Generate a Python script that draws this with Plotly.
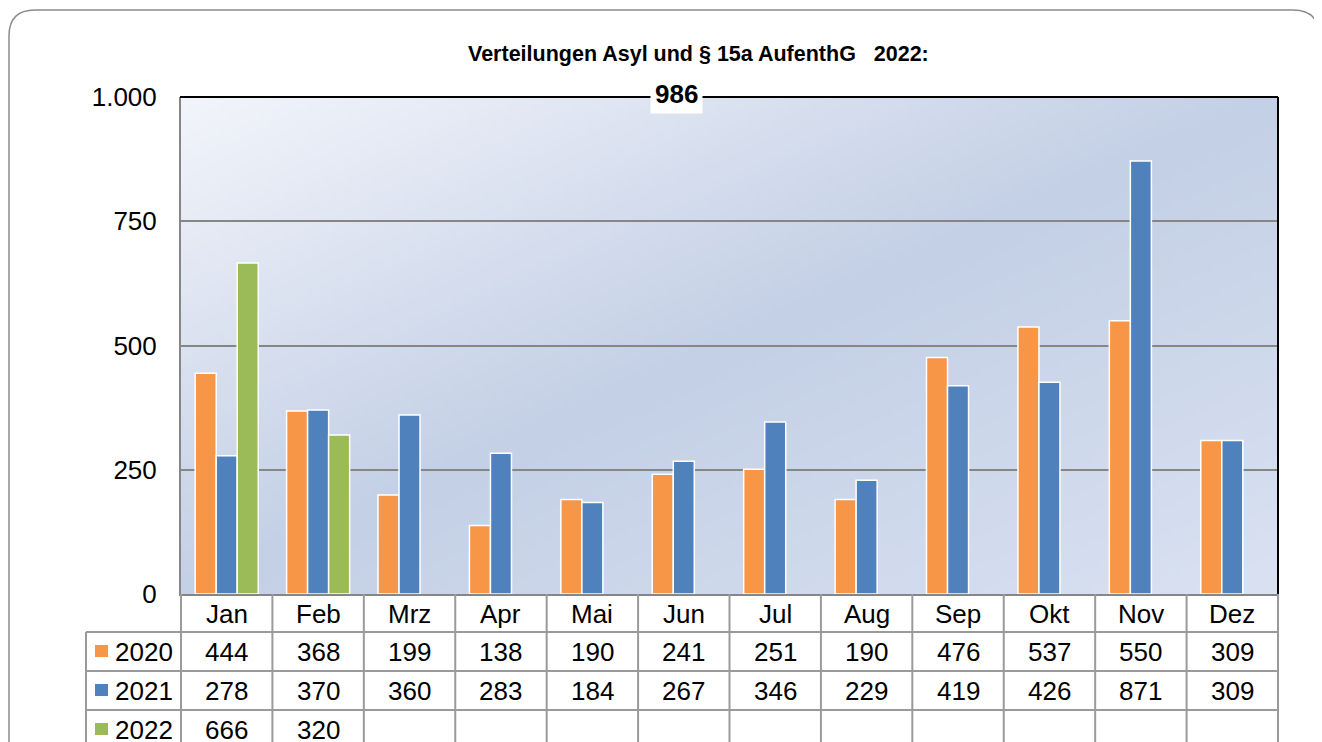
import base64
import struct
import zlib

import numpy as np
import plotly.graph_objects as go

# data
months = ['Jan', 'Feb', 'Mrz', 'Apr', 'Mai', 'Jun', 'Jul', 'Aug', 'Sep', 'Okt', 'Nov', 'Dez']
years = ['2020', '2021', '2022']
v2020 = [444, 368, 199, 138, 190, 241, 251, 190, 476, 537, 550, 309]
v2021 = [278, 370, 360, 283, 184, 267, 346, 229, 419, 426, 871, 309]
v2022 = [666, 320, None, None, None, None, None, None, None, None, None, None]
y_ticks = [0, 250, 500, 750, 1000]
title = 'Verteilungen Asyl und § 15a AufenthG\u00a0\u00a0\u00a02022:'

colors = ['#F79646', '#4F81BD', '#9BBB59']
series = [v2020, v2021, v2022]
FONT = 'Liberation Sans, Arial, sans-serif'

# page size, body margin of the html page, plot area in page pixels
W, H, OFF = 1322, 742, 8
L, R, T, B = 181, 1278, 97, 594


def X(px):
    return (px - L) / (R - L)


def Y(py):
    return (B - py) / (B - T)


def gradient_png(w=220, h=110):
    # diagonal gradient: light top-left, darker middle band, lighter bottom-right
    u = np.linspace(0, 1, w)[None, :]
    v = np.linspace(0, 1, h)[:, None]
    t = (u + v) / 2
    c0 = np.array([243, 245, 251])
    c1 = np.array([196, 208, 230])
    c2 = np.array([218, 226, 242])
    a = np.clip(t / 0.5, 0, 1)[..., None]
    b = np.clip((t - 0.5) / 0.5, 0, 1)[..., None]
    img = np.where(t[..., None] <= 0.5, c0 + (c1 - c0) * a, c1 + (c2 - c1) * b)
    img = img.astype(np.uint8)
    raw = b''.join(b'\x00' + img[i].tobytes() for i in range(h))

    def chunk(tag, data):
        c = struct.pack('>I', len(data)) + tag + data
        return c + struct.pack('>I', zlib.crc32(tag + data) & 0xffffffff)

    png = b'\x89PNG\r\n\x1a\n'
    png += chunk(b'IHDR', struct.pack('>IIBBBBB', w, h, 8, 2, 0, 0, 0))
    png += chunk(b'IDAT', zlib.compress(raw, 9))
    png += chunk(b'IEND', b'')
    return 'data:image/png;base64,' + base64.b64encode(png).decode()


fig = go.Figure()
for name, vals, col in zip(years, series, colors):
    fig.add_trace(go.Bar(x=months, y=vals, name=name, marker_color=col,
                         marker_line=dict(color='white', width=1.5)))

shapes = []
annotations = []

# outer rounded frame
x0, y0, x1, y1, r = X(9), Y(10), X(1319), Y(780), 26
rx, ry = r / (R - L), r / (B - T)
path = (f'M {x0 + rx},{y0} L {x1 - rx},{y0} Q {x1},{y0} {x1},{y0 - ry} '
        f'L {x1},{y1 + ry} Q {x1},{y1} {x1 - rx},{y1} L {x0 + rx},{y1} '
        f'Q {x0},{y1} {x0},{y1 + ry} L {x0},{y0 - ry} Q {x0},{y0} {x0 + rx},{y0} Z')
shapes.append(dict(type='path', xref='paper', yref='paper', path=path,
                   line=dict(color='#8C8C8C', width=1.5), layer='below'))

# top and right black frame of the plot area
shapes.append(dict(type='line', xref='paper', yref='paper', x0=X(L - 1), x1=1, y0=1, y1=1,
                   line=dict(color='black', width=2), layer='above'))
shapes.append(dict(type='line', xref='paper', yref='paper', x0=1, x1=1, y0=0, y1=1,
                   line=dict(color='black', width=2), layer='above'))

# data table grid
grid = dict(color='#9A9A9A', width=2)
row_lines = [632, 671, 710]
for py in row_lines:
    shapes.append(dict(type='line', xref='paper', yref='paper', x0=X(86), x1=1,
                       y0=Y(py), y1=Y(py), line=grid))
col_w = (R - L) / len(months)
for i in range(len(months) + 1):
    px = L + i * col_w
    shapes.append(dict(type='line', xref='paper', yref='paper', x0=X(px), x1=X(px),
                       y0=Y(B), y1=Y(760), line=grid))
shapes.append(dict(type='line', xref='paper', yref='paper', x0=X(86), x1=X(86),
                   y0=Y(632), y1=Y(760), line=grid))

# table text
cell_font = dict(family=FONT, size=26, color='black')
for i, m in enumerate(months):
    annotations.append(dict(x=m, xref='x', y=Y(614), yref='paper', text=m,
                            xanchor='center', yanchor='middle',
                            showarrow=False, font=cell_font))
row_centers = [652, 691, 730]
for yr, vals, col, cy in zip(years, series, colors, row_centers):
    shapes.append(dict(type='rect', xref='paper', yref='paper', x0=X(95), x1=X(108),
                       y0=Y(cy - 7), y1=Y(cy + 5), fillcolor=col, line=dict(width=0)))
    annotations.append(dict(x=X(113), y=Y(cy), xref='paper', yref='paper', text=yr,
                            xanchor='left', yanchor='middle', showarrow=False, font=cell_font))
    for m, v in zip(months, vals):
        if v is None:
            continue
        annotations.append(dict(x=m, xref='x', y=Y(cy), yref='paper', text=str(v),
                                xanchor='center', yanchor='middle',
                                showarrow=False, font=cell_font))

# title and total of the current year
annotations.append(dict(x=X(698), y=Y(54), xref='paper', yref='paper', text=f'<b>{title}</b>',
                        xanchor='center', yanchor='middle',
                        showarrow=False, font=dict(family=FONT, size=21.5, color='black')))
total = sum(v for v in v2022 if v is not None)
annotations.append(dict(x=X(676), y=Y(94), xref='paper', yref='paper', text=f'<b>{total}</b>',
                        xanchor='center', yanchor='middle',
                        showarrow=False, bgcolor='white', borderpad=4,
                        font=dict(family=FONT, size=26, color='black')))

fig.update_layout(
    width=W - OFF, height=H - OFF,
    margin=dict(l=L - OFF, r=W - R, t=T - OFF, b=H - B),
    paper_bgcolor='white', plot_bgcolor='white',
    barmode='group', bargap=0.31, bargroupgap=0,
    showlegend=False,
    separators=',.',
    font=dict(family=FONT, size=26, color='black'),
    shapes=shapes,
    annotations=annotations,
    images=[dict(source=gradient_png(), xref='paper', yref='paper', x=0, y=1,
                 sizex=1, sizey=1, sizing='stretch', xanchor='left', yanchor='top',
                 layer='below')],
)
fig.update_xaxes(showticklabels=False, showgrid=False, showline=True,
                 linecolor='#868686', linewidth=2, ticks='')
fig.update_yaxes(range=[0, 1000], tickvals=y_ticks, tickformat=',d',
                 showgrid=True, gridcolor='#868686', gridwidth=2,
                 showline=True, linecolor='#868686', linewidth=2,
                 ticks='', ticklabelstandoff=17, zeroline=False,
                 tickfont=dict(family=FONT, size=26, color='black'))

fig.write_html('out.html')
